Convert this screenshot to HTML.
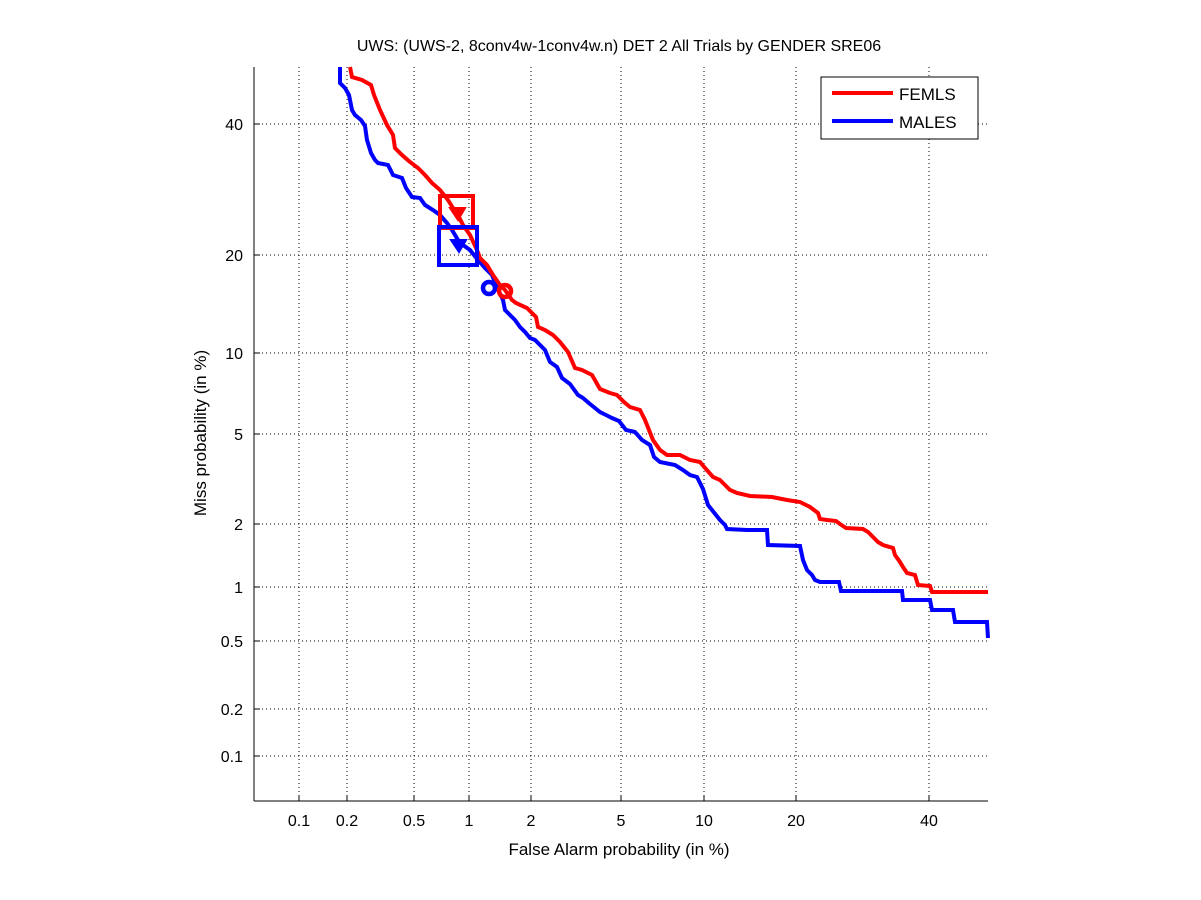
<!DOCTYPE html>
<html><head><meta charset="utf-8"><style>body{margin:0;background:#fff}svg{display:block}</style></head><body>
<svg width="1201" height="900" xmlns="http://www.w3.org/2000/svg" font-family="Liberation Sans, sans-serif">
<rect width="1201" height="900" fill="#fff"/>
<g stroke="#000" stroke-width="1" stroke-dasharray="1,3">
<line x1="299" y1="67" x2="299" y2="801"/><line x1="347" y1="67" x2="347" y2="801"/><line x1="414" y1="67" x2="414" y2="801"/><line x1="469" y1="67" x2="469" y2="801"/><line x1="531" y1="67" x2="531" y2="801"/><line x1="621" y1="67" x2="621" y2="801"/><line x1="704" y1="67" x2="704" y2="801"/><line x1="796" y1="67" x2="796" y2="801"/><line x1="929" y1="67" x2="929" y2="801"/>
<line x1="254" y1="124" x2="988" y2="124"/><line x1="254" y1="255" x2="988" y2="255"/><line x1="254" y1="353" x2="988" y2="353"/><line x1="254" y1="434" x2="988" y2="434"/><line x1="254" y1="524" x2="988" y2="524"/><line x1="254" y1="587" x2="988" y2="587"/><line x1="254" y1="641" x2="988" y2="641"/><line x1="254" y1="709" x2="988" y2="709"/><line x1="254" y1="756" x2="988" y2="756"/>
</g>
<g stroke="#000" stroke-width="1">
<line x1="254" y1="67" x2="254" y2="801"/><line x1="254" y1="801" x2="988" y2="801"/>
<line x1="299" y1="801" x2="299" y2="795"/><line x1="347" y1="801" x2="347" y2="795"/><line x1="414" y1="801" x2="414" y2="795"/><line x1="469" y1="801" x2="469" y2="795"/><line x1="531" y1="801" x2="531" y2="795"/><line x1="621" y1="801" x2="621" y2="795"/><line x1="704" y1="801" x2="704" y2="795"/><line x1="796" y1="801" x2="796" y2="795"/><line x1="929" y1="801" x2="929" y2="795"/>
<line x1="254" y1="124" x2="260" y2="124"/><line x1="254" y1="255" x2="260" y2="255"/><line x1="254" y1="353" x2="260" y2="353"/><line x1="254" y1="434" x2="260" y2="434"/><line x1="254" y1="524" x2="260" y2="524"/><line x1="254" y1="587" x2="260" y2="587"/><line x1="254" y1="641" x2="260" y2="641"/><line x1="254" y1="709" x2="260" y2="709"/><line x1="254" y1="756" x2="260" y2="756"/>
</g>
<g font-size="16" fill="#000" text-anchor="middle">
<text x="299" y="826">0.1</text><text x="347" y="826">0.2</text><text x="414" y="826">0.5</text><text x="469" y="826">1</text><text x="531" y="826">2</text><text x="621" y="826">5</text><text x="704" y="826">10</text><text x="796" y="826">20</text><text x="929" y="826">40</text>
</g>
<g font-size="16" fill="#000" text-anchor="end">
<text x="243" y="130">40</text><text x="243" y="261">20</text><text x="243" y="359">10</text><text x="243" y="440">5</text><text x="243" y="530">2</text><text x="243" y="593">1</text><text x="243" y="647">0.5</text><text x="243" y="715">0.2</text><text x="243" y="762">0.1</text>
</g>
<text x="619" y="51" font-size="16" text-anchor="middle">UWS: (UWS-2, 8conv4w-1conv4w.n) DET 2 All Trials by GENDER SRE06</text>
<text x="619" y="855" font-size="17" text-anchor="middle">False Alarm probability (in %)</text>
<text transform="translate(206,433) rotate(-90)" font-size="17" text-anchor="middle">Miss probability (in %)</text>
<g fill="none" stroke-width="4" stroke-linejoin="miter">
<polyline stroke="#00f" points="340,67 340,83 345,88 349,95 352,110 355,115 361,120 365,126 367,140 371,153 375,160 378,163 388,165 393,175 402,178 406,188 412,197 420,198 425,205 433,210 440,215 447,223 452,230 458,240 463,245 470,250 478,260 485,268 492,275 496,285 503,300 505,310 508,313 515,320 520,327 525,332 530,338 535,340 545,350 550,362 557,367 562,378 570,384 578,395 583,398 590,404 595,408 600,412 606,415 612,418 619,421 626,430 635,432 642,440 650,445 654,457 660,462 675,465 683,470 690,475 697,477 703,489 708,505 712,510 720,520 725,525 727,529 747,530 767,530 768,545 800,546 803,560 807,570 812,575 815,580 820,582 839,582 841,591 902,591 903,600 930,600 932,610 953,610 955,622 987,622 988,638"/>
<polyline stroke="#f00" points="350,67 352,77 362,80 371,85 374,95 378,105 380,110 387,125 393,135 395,148 402,155 410,162 418,168 425,175 432,183 440,190 448,200 453,208 458,215 463,225 470,235 477,250 480,258 487,265 493,275 500,285 505,290 512,300 516,303 527,308 536,317 538,327 545,330 553,335 560,342 568,352 575,368 582,370 592,375 600,389 610,393 617,395 624,402 630,407 640,410 645,420 653,440 660,450 667,455 680,455 690,460 700,462 705,468 713,477 720,480 730,490 737,493 750,496 772,497 787,500 800,502 810,507 818,513 820,519 827,520 836,521 840,524 846,528 863,529 868,532 873,537 878,542 883,545 893,548 895,555 900,562 903,567 907,573 915,575 918,585 930,586 932,592 988,592"/>
<rect x="440" y="196" width="33" height="32" stroke="#f00"/>
<rect x="439" y="227" width="38" height="38" stroke="#00f"/>
<circle cx="489" cy="288" r="6" stroke="#00f" stroke-width="4.5"/>
<circle cx="505" cy="291" r="6" stroke="#f00" stroke-width="4.5"/>
</g>
<polygon points="450,208 465,208 458,220" fill="#f00" stroke="#f00" stroke-width="2"/>
<polygon points="451,240 466,240 459,252" fill="#00f" stroke="#00f" stroke-width="2"/>
<rect x="821" y="77" width="157" height="62" fill="#fff" stroke="#000" stroke-width="1"/>
<line x1="832" y1="93" x2="893" y2="93" stroke="#f00" stroke-width="4"/>
<line x1="832" y1="121" x2="893" y2="121" stroke="#00f" stroke-width="4"/>
<text x="899" y="100" font-size="17">FEMLS</text>
<text x="899" y="128" font-size="17">MALES</text>
</svg>
</body></html>
